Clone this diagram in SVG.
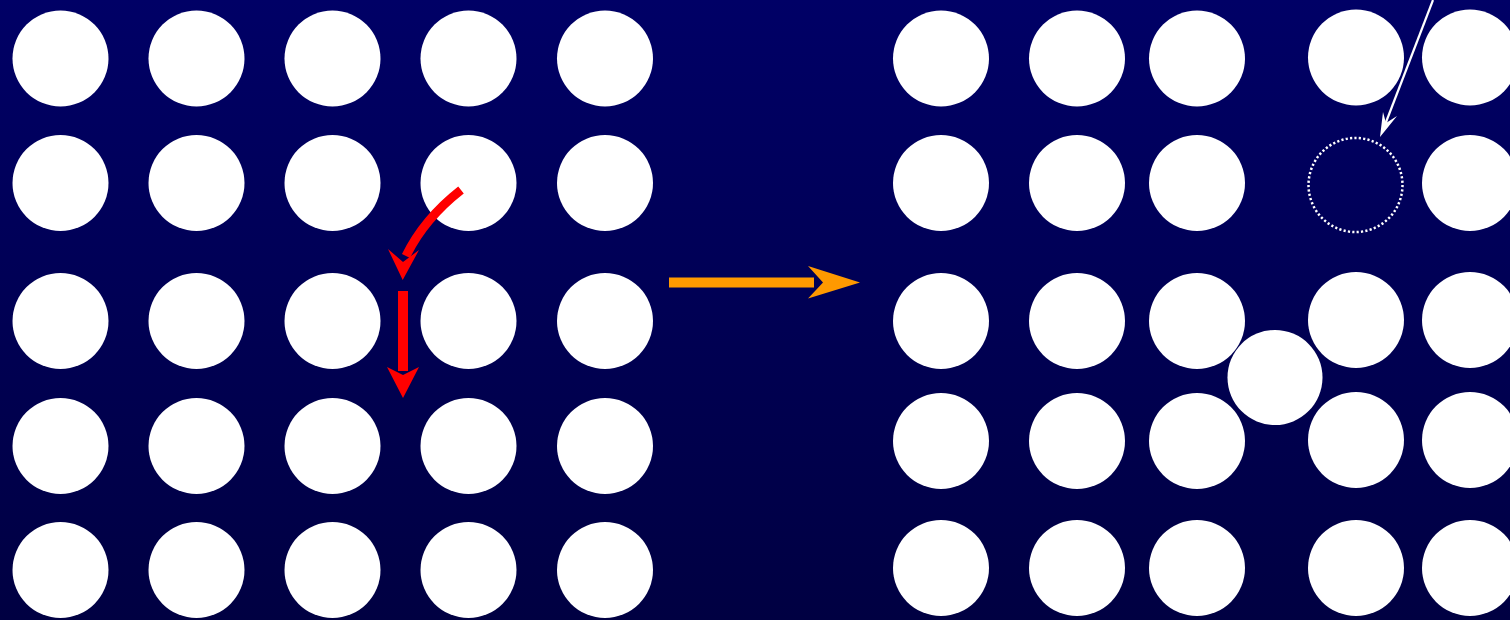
<svg xmlns="http://www.w3.org/2000/svg" width="1510" height="620" viewBox="0 0 1510 620">
<defs>
<linearGradient id="bg" x1="0" y1="0" x2="0" y2="1">
<stop offset="0" stop-color="#000066"/>
<stop offset="1" stop-color="#000042"/>
</linearGradient>
<style>
.atom{fill:#ffffff}
.vac{fill:none;stroke:#ffffff;stroke-width:2.5;stroke-dasharray:2.2 2.2}
.red{fill:#ff0000}
.redline{fill:none;stroke:#ff0000;stroke-width:9}
</style>
</defs>
<rect x="0" y="0" width="1510" height="620" fill="url(#bg)"/>
<g id="left-lattice">
<circle class="atom" cx="60.5" cy="58.5" r="48"/><circle class="atom" cx="196.5" cy="58.5" r="48"/><circle class="atom" cx="332.5" cy="58.5" r="48"/><circle class="atom" cx="468.5" cy="58.5" r="48"/><circle class="atom" cx="605" cy="58.5" r="48"/>
<circle class="atom" cx="60.5" cy="183" r="48"/><circle class="atom" cx="196.5" cy="183" r="48"/><circle class="atom" cx="332.5" cy="183" r="48"/><circle class="atom" cx="468.5" cy="183" r="48"/><circle class="atom" cx="605" cy="183" r="48"/>
<circle class="atom" cx="60.5" cy="321" r="48"/><circle class="atom" cx="196.5" cy="321" r="48"/><circle class="atom" cx="332.5" cy="321" r="48"/><circle class="atom" cx="468.5" cy="321" r="48"/><circle class="atom" cx="605" cy="321" r="48"/>
<circle class="atom" cx="60.5" cy="446" r="48"/><circle class="atom" cx="196.5" cy="446" r="48"/><circle class="atom" cx="332.5" cy="446" r="48"/><circle class="atom" cx="468.5" cy="446" r="48"/><circle class="atom" cx="605" cy="446" r="48"/>
<circle class="atom" cx="60.5" cy="570" r="48"/><circle class="atom" cx="196.5" cy="570" r="48"/><circle class="atom" cx="332.5" cy="570" r="48"/><circle class="atom" cx="468.5" cy="570" r="48"/><circle class="atom" cx="605" cy="570" r="48"/>
</g>
<g id="right-lattice">
<circle class="atom" cx="941" cy="58.5" r="48"/><circle class="atom" cx="1077" cy="58.5" r="48"/><circle class="atom" cx="1197" cy="58.5" r="48"/><circle class="atom" cx="1356" cy="57.5" r="48"/><circle class="atom" cx="1470" cy="57.5" r="48"/>
<circle class="atom" cx="941" cy="183" r="48"/><circle class="atom" cx="1077" cy="183" r="48"/><circle class="atom" cx="1197" cy="183" r="48"/><circle class="atom" cx="1470" cy="183" r="48"/>
<circle class="atom" cx="941" cy="321" r="48"/><circle class="atom" cx="1077" cy="321" r="48"/><circle class="atom" cx="1197" cy="321" r="48"/><circle class="atom" cx="1356" cy="320" r="48"/><circle class="atom" cx="1470" cy="320" r="48"/>
<circle class="atom" cx="941" cy="441" r="48"/><circle class="atom" cx="1077" cy="441" r="48"/><circle class="atom" cx="1197" cy="441" r="48"/><circle class="atom" cx="1356" cy="440" r="48"/><circle class="atom" cx="1470" cy="440" r="48"/>
<circle class="atom" cx="941" cy="568" r="48"/><circle class="atom" cx="1077" cy="568" r="48"/><circle class="atom" cx="1197" cy="568" r="48"/><circle class="atom" cx="1356" cy="568" r="48"/><circle class="atom" cx="1470" cy="568" r="48"/>
</g>
<g id="interstitial"><circle class="atom" cx="1275" cy="377.5" r="47.5"/></g>
<g id="vacancy"><circle class="vac" cx="1355.5" cy="185" r="47"/></g>
<g id="connectors">
<path class="redline" d="M461,190 Q424,219 406,256"/>
<polygon class="red" points="402.7,280 388,249 403,262 419,250"/>
<rect class="red" x="398" y="291" width="10" height="80"/>
<polygon class="red" points="403,398 387,367 403,375 419,367"/>
<rect x="669" y="277.5" width="145" height="10" fill="#ff9900"/>
<polygon points="860,282.5 808,266 823,282.5 808,298.5" fill="#ff9900"/>
<line x1="1433" y1="0" x2="1383" y2="130" stroke="#ffffff" stroke-width="2.2"/>
<polygon points="1380,137 1383,112 1386,123 1397,116" fill="#ffffff"/>
</g>
</svg>
